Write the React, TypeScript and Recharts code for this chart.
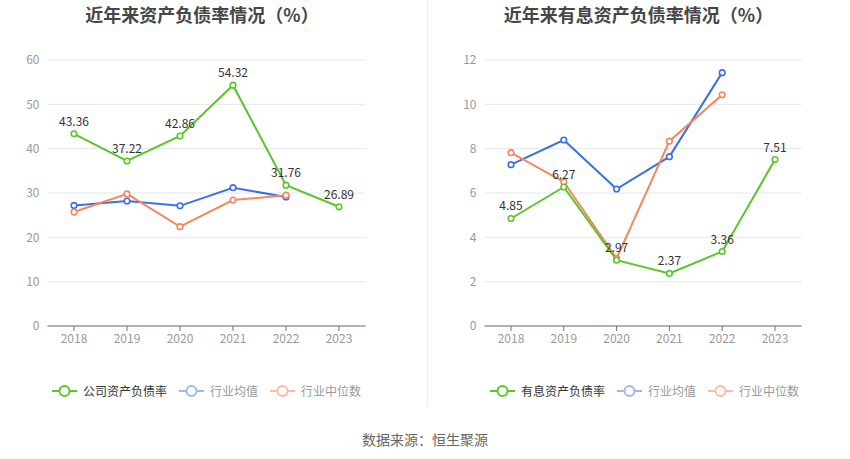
import React from 'react';
import { LineChart, Line, XAxis, YAxis, CartesianGrid, LabelList, Legend } from 'recharts';

const years = ['2018', '2019', '2020', '2021', '2022', '2023'];

const leftCompany = [43.36, 37.22, 42.86, 54.32, 31.76, 26.89];
const leftAvg = [27.2, 28.2, 27.1, 31.2, 29.1, null];
const leftMedian = [25.7, 29.8, 22.4, 28.4, 29.5, null];

const rightCompany = [4.85, 6.27, 2.97, 2.37, 3.36, 7.51];
const rightAvg = [7.28, 8.39, 6.18, 7.64, 11.43, null];
const rightMedian = [7.82, 6.5, 3.05, 8.34, 10.43, null];

const leftTicks = [0, 10, 20, 30, 40, 50, 60];
const rightTicks = [0, 2, 4, 6, 8, 10, 12];

const leftTitle = '近年来资产负债率情况（%）';
const rightTitle = '近年来有息资产负债率情况（%）';
const leftNames = ['公司资产负债率', '行业均值', '行业中位数'];
const rightNames = ['有息资产负债率', '行业均值', '行业中位数'];
const sourceText = '数据来源：恒生聚源';

const GREEN = '#5cc52a';
const BLUE = '#3c70e6';
const ORANGE = '#f5875a';
const FONT = '"Noto Sans CJK SC", "Noto Sans", sans-serif';

const buildRows = (c: (number | null)[], a: (number | null)[], m: (number | null)[]) =>
  years.map((y, i) => ({ year: y, company: c[i], avg: a[i], median: m[i] }));

const leftData = buildRows(leftCompany, leftAvg, leftMedian);
const rightData = buildRows(rightCompany, rightAvg, rightMedian);

const LegendIcon = ({ color }: { color: string }) => (
  <svg width={25} height={14} viewBox="0 0 25 14" style={{ display: 'block' }}>
    <line x1={0} y1={7} x2={25} y2={7} stroke={color} strokeWidth={2} />
    <circle cx={12.5} cy={7} r={5} fill="#fff" stroke={color} strokeWidth={2} />
  </svg>
);

const makeLegend = (names: string[]) => () => {
  const items = [
    { name: names[0], icon: GREEN, text: '#333' },
    { name: names[1], icon: '#9db8f3', text: '#999' },
    { name: names[2], icon: '#f9bda3', text: '#999' },
  ];
  return (
    <div style={{ display: 'flex', justifyContent: 'center', alignItems: 'center', fontFamily: FONT, fontSize: 12 }}>
      {items.map((it, i) => (
        <div key={i} style={{ display: 'flex', alignItems: 'center', marginLeft: i === 0 ? 0 : 12 }}>
          <LegendIcon color={it.icon} />
          <span style={{ color: it.text, marginLeft: 6, lineHeight: '14px' }}>{it.name}</span>
        </div>
      ))}
    </div>
  );
};

const dot = (color: string) => ({ r: 2.8, fill: '#fff', stroke: color, strokeWidth: 1.6 });

type ChartProps = {
  data: any[];
  ticks: number[];
  max: number;
  yWidth: number;
  width: number;
  rightMargin: number;
  names: string[];
  legendLeft: number;
  legendWidth: number;
  pad: number;
};

const Chart = ({ data, ticks, max, yWidth, width, rightMargin, names, legendLeft, legendWidth, pad }: ChartProps) => (
  <LineChart width={width} height={406} data={data} margin={{ top: 60, right: rightMargin, left: 0, bottom: 50 }}>
    <CartesianGrid vertical={false} stroke="#e0e6f1" />
    <XAxis
      dataKey="year"
      height={30}
      padding={{ left: pad, right: pad }}
      tick={{ fill: '#999', fontSize: 12, fontFamily: FONT }}
      axisLine={{ stroke: '#6e7079' }}
      tickLine={{ stroke: '#6e7079' }}
      tickSize={5}
      tickMargin={3}
    />
    <YAxis
      width={yWidth}
      domain={[0, max]}
      ticks={ticks}
      axisLine={false}
      tickLine={false}
      tick={{ fill: '#999', fontSize: 12, fontFamily: FONT }}
    />
    <Legend
      layout="horizontal"
      verticalAlign="middle"
      align="center"
      content={makeLegend(names)}
      wrapperStyle={{ position: 'absolute', top: 384, left: legendLeft, width: legendWidth }}
    />
    <Line
      dataKey="avg"
      stroke={BLUE}
      strokeWidth={2}
      dot={dot(BLUE)}
      activeDot={false}
      isAnimationActive={false}
    />
    <Line
      dataKey="median"
      stroke={ORANGE}
      strokeWidth={2}
      dot={dot(ORANGE)}
      activeDot={false}
      isAnimationActive={false}
    />
    <Line
      dataKey="company"
      stroke={GREEN}
      strokeWidth={2}
      dot={dot(GREEN)}
      activeDot={false}
      isAnimationActive={false}
    >
      <LabelList dataKey="company" position="top" offset={8} fill="#333" fontSize={12} fontFamily={FONT} />
    </Line>
  </LineChart>
);

export default function App() {
  return (
    <div style={{ position: 'absolute', left: 0, top: 0, width: 850, height: 459, background: '#fff', fontFamily: FONT }}>
      <div style={{ position: 'absolute', left: 0, width: 404, top: 2, textAlign: 'center', fontSize: 18, fontWeight: 'bold', color: '#464646', lineHeight: '24px' }}>
        {leftTitle}
      </div>
      <div style={{ position: 'absolute', left: 427, width: 423, top: 2, textAlign: 'center', fontSize: 18, fontWeight: 'bold', color: '#464646', lineHeight: '24px' }}>
        {rightTitle}
      </div>
      <div style={{ position: 'absolute', left: 427, top: 0, width: 1, height: 406, background: '#eeeeee' }} />
      <div style={{ position: 'absolute', left: 0, top: 0 }}>
        <Chart data={leftData} ticks={leftTicks} max={60} yWidth={47.5} width={427} rightMargin={61.5} names={leftNames} legendLeft={0} legendWidth={413} pad={26.5} />
      </div>
      <div style={{ position: 'absolute', left: 427, top: 0 }}>
        <Chart data={rightData} ticks={rightTicks} max={12} yWidth={57.5} width={423} rightMargin={48.5} names={rightNames} legendLeft={0} legendWidth={435} pad={26.5} />
      </div>
      <div style={{ position: 'absolute', left: 0, width: 850, top: 429, textAlign: 'center', fontSize: 14, color: '#666', lineHeight: '20px' }}>
        {sourceText}
      </div>
    </div>
  );
}
